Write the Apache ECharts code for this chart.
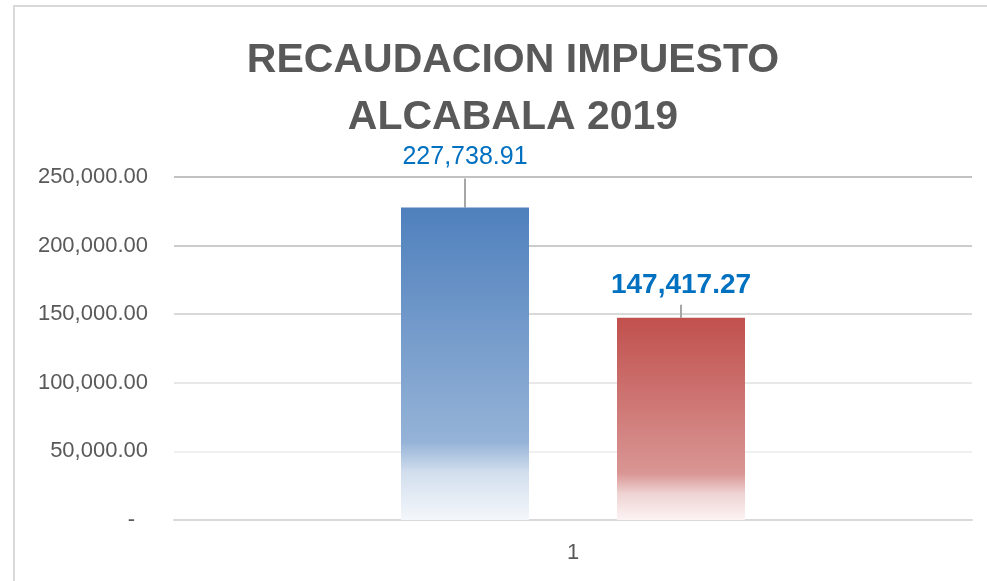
<!DOCTYPE html>
<html><head><meta charset="utf-8">
<script src="https://cdn.jsdelivr.net/npm/echarts@6/dist/echarts.min.js"></script>
<style>html,body{margin:0;padding:0;background:#fff}#c{width:987px;height:581px}</style>
</head><body><div id="c"></div>
<script>
const titleText = 'RECAUDACION IMPUESTO\nALCABALA 2019';
const categories = ['1'];
const seriesA = [227738.91];
const seriesB = [147417.27];
const yTicks = [0, 50000, 100000, 150000, 200000, 250000];

function fmt(v){
  return v.toLocaleString('en-US',{minimumFractionDigits:2,maximumFractionDigits:2});
}
const chart = echarts.init(document.getElementById('c'));
const FONT = '"Liberation Sans", Arial, sans-serif';
chart.setOption({
  animation:false,
  backgroundColor:'#ffffff',
  graphic:[{type:'rect',shape:{x:14,y:6,width:1000,height:620},style:{fill:'none',stroke:'#d9d9d9',lineWidth:2},silent:true}],
  title:{text:titleText,top:27,textAlign:'center',left:508,
    textStyle:{fontFamily:FONT,fontWeight:'bold',fontSize:41,color:'#595959',lineHeight:57}},
  grid:{left:174,right:15,top:177,bottom:61},
  xAxis:{type:'category',data:categories,
    axisTick:{show:false},
    axisLine:{show:true,lineStyle:{color:'#d9d9d9',width:2}},
    axisLabel:{fontFamily:FONT,fontSize:22,color:'#595959',margin:22}},
  yAxis:{type:'value',min:yTicks[0],max:yTicks[yTicks.length-1],interval:yTicks[1]-yTicks[0],
    axisLine:{show:false},axisTick:{show:false},
    splitLine:{lineStyle:{width:2,color:['#d9d9d9','#f0f0f0','#e8e8e8','#d9d9d9','#cccccc','#c2c2c2']}},
    axisLabel:{fontFamily:FONT,fontSize:22,color:'#595959',margin:26,
      formatter:function(v){return v===0?'{d|-}':fmt(v);},
      rich:{d:{fontFamily:FONT,fontSize:22,color:'#595959',padding:[0,13,0,0]}}}},
  series:[
    {type:'bar',data:seriesA,barWidth:128,barGap:'68.75%',
      itemStyle:{color:new echarts.graphic.LinearGradient(0,0,0,1,[
        {offset:0,color:'#4f80bd'},{offset:0.75,color:'#95b3d7'},{offset:0.85,color:'#d3dfee'},{offset:1,color:'#f4f7fb'}])},
      label:{show:true,position:'top',distance:5,formatter:p=>'{v|'+fmt(p.value)+'}\n{s|}',
        rich:{v:{fontFamily:FONT,fontSize:25,color:'#0070c0',lineHeight:26},s:{height:8,lineHeight:8,fontSize:8}}},
      labelLayout:{dy:-24},
      labelLine:{show:true,lineStyle:{color:'#a6a6a6',width:2}}},
    {type:'bar',data:seriesB,barWidth:128,
      itemStyle:{color:new echarts.graphic.LinearGradient(0,0,0,1,[
        {offset:0,color:'#c0504d'},{offset:0.77,color:'#d99694'},{offset:0.87,color:'#efd3d3'},{offset:1,color:'#fcf3f3'}])},
      label:{show:true,position:'top',distance:5,formatter:p=>'{v|'+fmt(p.value)+'}\n{s|}',
        rich:{v:{fontFamily:FONT,fontSize:28,fontWeight:'bold',color:'#0070c0',lineHeight:28},s:{height:5,lineHeight:5,fontSize:5}}},
      labelLayout:{dy:-8},
      labelLine:{show:true,lineStyle:{color:'#a6a6a6',width:2}}}
  ]
});
</script></body></html>
